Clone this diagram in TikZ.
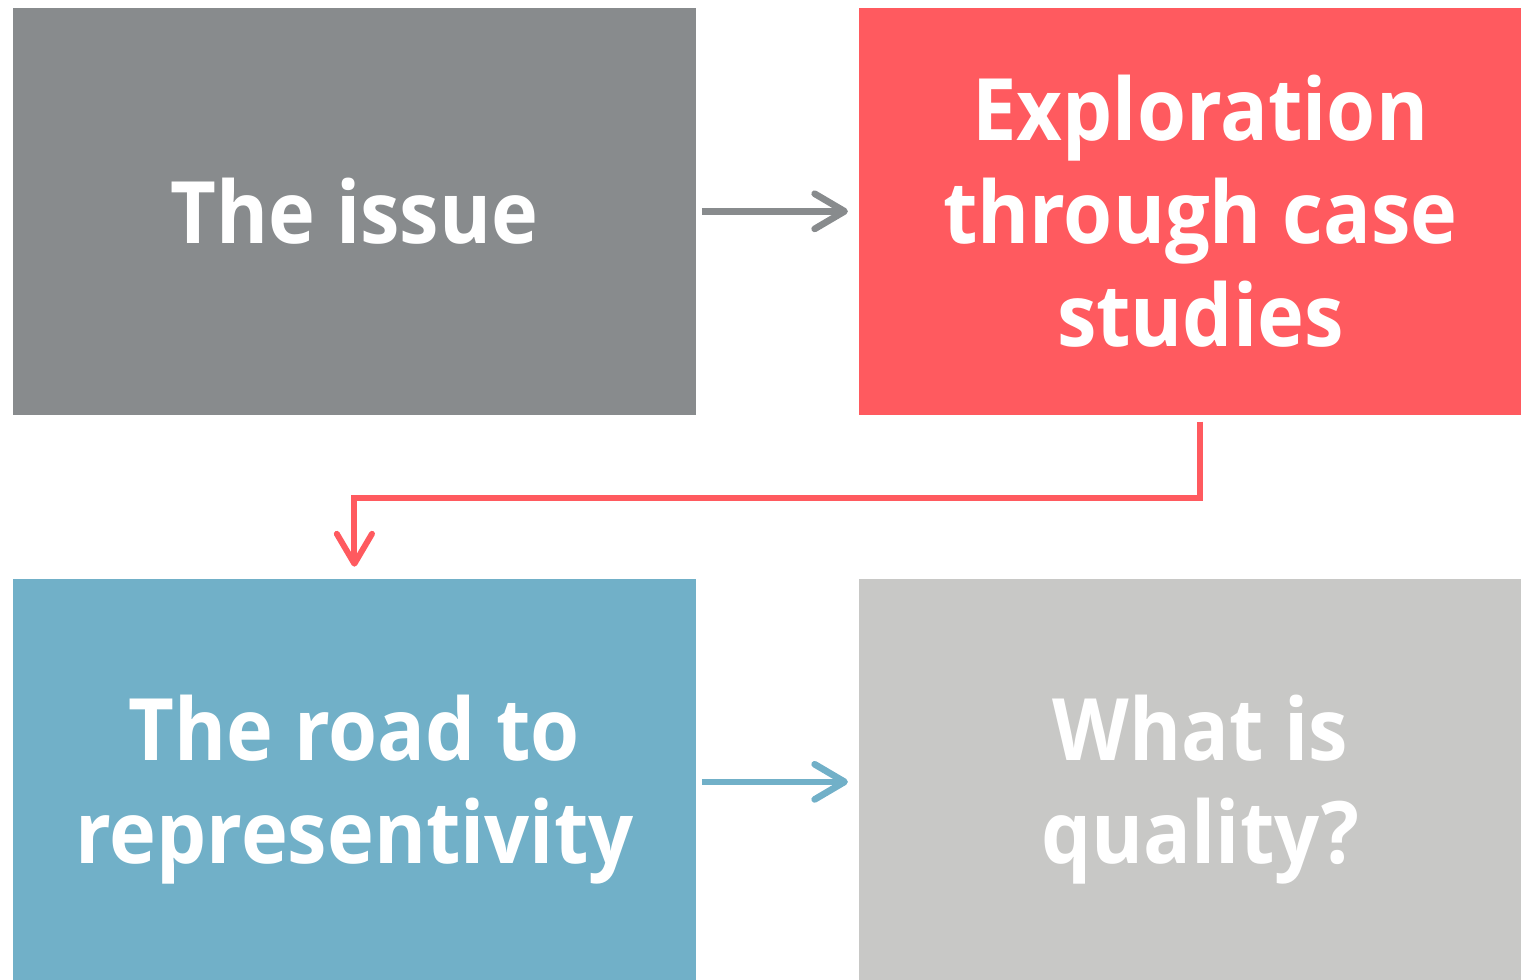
\documentclass[tikz,border=0pt]{standalone}
\usepackage{fontspec}
\setmainfont{Open Sans}[FakeStretch=0.92]
\usetikzlibrary{arrows.meta,positioning}
\definecolor{IssueGrey}{HTML}{888B8D}
\definecolor{CaseRed}{HTML}{FF5A5F}
\definecolor{RoadBlue}{HTML}{71B0C8}
\definecolor{QualityGrey}{HTML}{C8C8C6}

\begin{document}
\begin{tikzpicture}[x=0.01cm, y=0.01cm, node distance=1.63cm and 1.61cm,
 every node/.style={font=\bfseries\fontsize{24.5}{29.3}\selectfont},
 box/.style={minimum width=6.83cm,minimum height=4.07cm,align=center,text=white,inner sep=0pt},
 lowbox/.style={box,minimum height=4.2cm},
 arr/.style={-{Straight Barb[length=8.5pt,width=10pt,round]},line width=1.9pt}]
\useasboundingbox (0,0) rectangle (1521,-980);
\node[box,fill=IssueGrey,anchor=north west] (issue) at (12,-7) {The issue};
\node[box,fill=CaseRed,right=of issue] (cases) {Exploration\\through case\\studies};
\node[lowbox,fill=RoadBlue,below=of issue] (road) {The road to\\representivity};
\node[lowbox,fill=QualityGrey,right=of road] (quality) {What is\\quality?};
\draw[arr,IssueGrey,shorten <=0.5mm,shorten >=1mm] (issue) -- (cases);
\draw[arr,RoadBlue,shorten <=0.5mm,shorten >=1mm] ([yshift=-2.03cm]road.north east) -- ([yshift=-2.03cm]quality.north west);
\draw[arr,CaseRed,line width=1.7pt,shorten <=0.6mm,shorten >=1.2mm] (cases.south) -- ++(0,-82) -| (road.north);
\end{tikzpicture}
\end{document}
